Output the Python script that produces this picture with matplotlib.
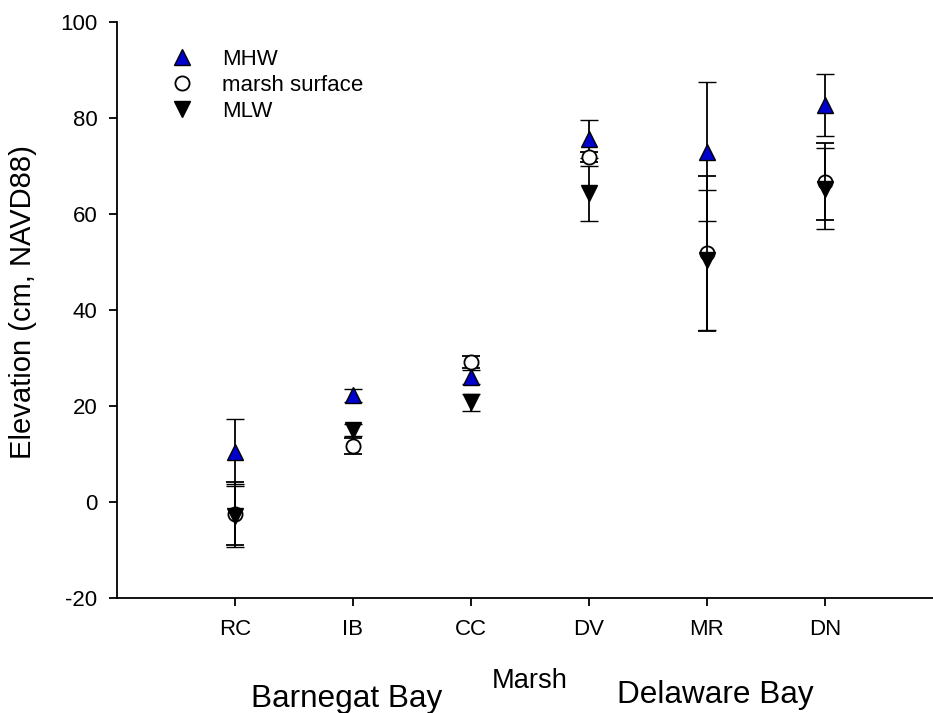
import matplotlib
matplotlib.use("Agg")
import matplotlib.pyplot as plt
from matplotlib.lines import Line2D

plt.rcParams['font.family'] = ['Liberation Sans', 'DejaVu Sans']
plt.rcParams['axes.unicode_minus'] = False

sites = ['RC', 'IB', 'CC', 'DV', 'MR', 'DN']
mhw = [10.5, 22.2, 26.1, 75.6, 73.0, 82.7]
mhw_err = [6.7, 1.4, 1.5, 4.0, 14.4, 6.4]
surf = [-2.4, 11.7, 29.2, 71.9, 51.8, 66.7]
surf_err = [6.5, 1.7, 1.3, 1.0, 16.2, 8.0]
mlw = [-3.0, 15.0, 20.8, 64.3, 50.4, 65.3]
mlw_err = [6.3, 1.3, 1.8, 5.8, 14.5, 8.4]

W, H = 933, 713
fig = plt.figure(figsize=(W / 100, H / 100), dpi=100)
ax = fig.add_axes([117 / W, 1 - 598 / H, (W - 117) / W, (598 - 22) / H])

x = list(range(1, len(sites) + 1))
blue = '#0000cc'
ms = 11
eb = dict(ecolor='black', elinewidth=1.3, capsize=6.5, capthick=1.3, linestyle='none')

ax.errorbar(x, mhw, yerr=mhw_err, marker='^', ms=ms, mfc=blue, mec='black',
            mew=1.0, zorder=3, **eb)
ax.errorbar(x, surf, yerr=surf_err, marker='o', ms=ms - 0.8, mfc='white', mec='black',
            mew=1.3, zorder=4, **eb)
ax.errorbar(x, mlw, yerr=mlw_err, marker='v', ms=ms, mfc='black', mec='black',
            mew=1.0, zorder=5, **eb)

ax.set_xlim(0, (W - 117) / 118)
ax.set_ylim(-20, 100)
ax.set_xticks(x)
ax.set_xticklabels(sites)
ax.set_yticks(range(-20, 101, 20))
ax.spines['top'].set_visible(False)
ax.spines['right'].set_visible(False)
for s in ('left', 'bottom'):
    ax.spines[s].set_linewidth(1.3)
ax.tick_params(axis='both', direction='out', length=6, width=1.3, labelsize=16)
ax.tick_params(axis='x', pad=9)
ax.tick_params(axis='y', pad=8)

ax.set_ylabel('Elevation (cm, NAVD88)', fontsize=21)
ax.yaxis.set_label_coords(-(117 - 37) / (W - 117), (598 - 302) / (598 - 22))

handles = [
    Line2D([], [], marker='^', ms=ms, mfc=blue, mec='black', mew=1.0, ls='none', label='MHW'),
    Line2D([], [], marker='o', ms=ms - 0.8, mfc='white', mec='black', mew=1.3, ls='none', label='marsh surface'),
    Line2D([], [], marker='v', ms=ms, mfc='black', mec='black', mew=1.0, ls='none', label='MLW'),
]
leg = ax.legend(handles=handles, loc='upper left', frameon=False, fontsize=16,
                handlelength=1.0, handletextpad=1.3, labelspacing=0.23,
                borderpad=0, borderaxespad=0, numpoints=1,
                bbox_to_anchor=(171 / W, 1 - 49 / H), bbox_transform=fig.transFigure)

fig.text(347 / W, 1 - 707 / H, 'Barnegat Bay', fontsize=22.7, ha='center', va='baseline')
fig.text(530 / W, 1 - 688 / H, 'Marsh', fontsize=19.6, ha='center', va='baseline')
fig.text(715 / W, 1 - 703 / H, 'Delaware Bay', fontsize=22.7, ha='center', va='baseline')

fig.savefig('out.png', dpi=100)
